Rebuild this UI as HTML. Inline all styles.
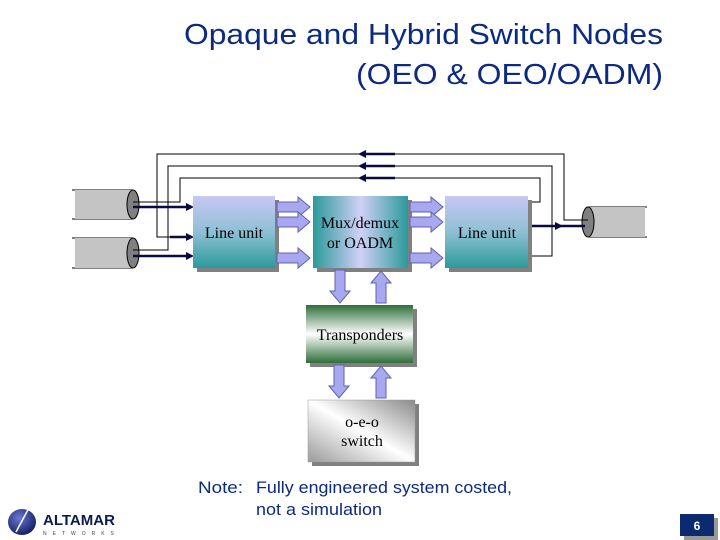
<!DOCTYPE html>
<html><head><meta charset="utf-8"><style>
html,body{margin:0;padding:0;background:#fff;width:720px;height:540px;overflow:hidden}
svg{display:block}
</style></head><body>
<svg width="720" height="540" viewBox="0 0 720 540" xmlns="http://www.w3.org/2000/svg">
<defs>
<linearGradient id="lu" x1="0" y1="0" x2="0" y2="1"><stop offset="0" stop-color="#c8c8f4"/><stop offset="0.5" stop-color="#8ec0d4"/><stop offset="1" stop-color="#2a9a9a"/></linearGradient>
<linearGradient id="mx" x1="0" y1="0" x2="1" y2="0"><stop offset="0" stop-color="#2a9a9a"/><stop offset="0.5" stop-color="#d0d0f6"/><stop offset="1" stop-color="#2a9a9a"/></linearGradient>
<linearGradient id="tr" x1="0" y1="0" x2="0" y2="1"><stop offset="0" stop-color="#2f6e3a"/><stop offset="0.5" stop-color="#ffffff"/><stop offset="1" stop-color="#2f6e3a"/></linearGradient>
<linearGradient id="sw" x1="1" y1="0" x2="0" y2="1"><stop offset="0" stop-color="#8a8a8a"/><stop offset="0.5" stop-color="#ffffff"/><stop offset="1" stop-color="#9a9a9a"/></linearGradient>
<radialGradient id="logo" cx="0.4" cy="0.35" r="0.7"><stop offset="0" stop-color="#6a7ad0"/><stop offset="1" stop-color="#101a60"/></radialGradient>
</defs>

<g font-family="Liberation Sans, Arial, sans-serif" fill="#0c2a80" font-size="29">
<text x="663" y="44" text-anchor="end" textLength="479" lengthAdjust="spacingAndGlyphs">Opaque and Hybrid Switch Nodes</text>
<text x="663" y="84" text-anchor="end" textLength="307" lengthAdjust="spacingAndGlyphs">(OEO &amp; OEO/OADM)</text>
</g>

<g stroke="#000" stroke-width="1">
<line x1="72" y1="190" x2="133" y2="190"/><line x1="72" y1="219" x2="133" y2="219"/>
<rect x="75" y="190" width="58" height="29" fill="#c4c4c4" stroke="none"/>
<ellipse cx="133" cy="204.5" rx="6" ry="14.5" fill="#808080"/>
<line x1="72" y1="238" x2="133" y2="238"/><line x1="72" y1="268" x2="133" y2="268"/>
<rect x="75" y="238" width="58" height="30" fill="#c4c4c4" stroke="none"/>
<ellipse cx="133" cy="253" rx="6" ry="15" fill="#808080"/>
<line x1="588" y1="207" x2="647" y2="207"/><line x1="588" y1="237" x2="647" y2="237"/>
<rect x="588" y="207" width="57" height="30" fill="#c4c4c4" stroke="none"/>
<ellipse cx="588" cy="222" rx="6" ry="15" fill="#808080"/>
</g>

<g fill="none" stroke="#000" stroke-width="1">
<polyline points="193,237 157,237 157,154 564,154 564,220 588,220"/>
<polyline points="133,250 168,250 168,166 552,166 552,256 528,256"/>
<polyline points="133,202 180,202 180,178 540,178 540,202 528,202"/>
</g>
<g stroke="#0a0a40" stroke-width="2.5">
<line x1="362" y1="154" x2="395" y2="154"/><line x1="362" y1="166" x2="395" y2="166"/><line x1="362" y1="178" x2="395" y2="178"/>
<line x1="133" y1="207" x2="188" y2="207"/><line x1="133" y1="256" x2="188" y2="256"/><line x1="170" y1="237" x2="188" y2="237"/>
<line x1="528" y1="226" x2="585" y2="226"/>
</g>
<g fill="#0a0a40">
<polygon points="358,154 366,150 366,158"/><polygon points="358,166 366,162 366,170"/><polygon points="358,178 366,174 366,182"/>
<polygon points="194,207 186,203 186,211"/><polygon points="194,256 186,252 186,260"/><polygon points="194,237 186,233 186,241"/>
<polygon points="563,226 555,222 555,230"/>
</g>

<g fill="#808080">
<rect x="197" y="200" width="82" height="72"/><rect x="317" y="200" width="95" height="72"/><rect x="449" y="200" width="83" height="72"/>
<rect x="310" y="309" width="107" height="58"/><rect x="312" y="404" width="107" height="62"/>
</g>
<rect x="193" y="196" width="82" height="72" fill="url(#lu)"/>
<rect x="313" y="196" width="95" height="72" fill="url(#mx)"/>
<rect x="445" y="196" width="83" height="72" fill="url(#lu)"/>
<rect x="306" y="305" width="107" height="58" fill="url(#tr)"/>
<rect x="308" y="400" width="107" height="62" fill="url(#sw)" stroke="#999" stroke-width="0.5"/>

<g font-family="Liberation Serif, Times New Roman, serif" font-size="16" fill="#000" text-anchor="middle">
<text x="234" y="238">Line unit</text>
<text x="360" y="228">Mux/demux</text>
<text x="360" y="248">or OADM</text>
<text x="487" y="238">Line unit</text>
<text x="360" y="340">Transponders</text>
<text x="362" y="427">o-e-o</text>
<text x="362" y="446">switch</text>
</g>

<g fill="#a8a8f0" stroke="#6060b0" stroke-width="1">
<polygon points="277,202 298,202 298,197 310,207 298,217 298,212 277,212"/>
<polygon points="277,217 298,217 298,212 310,222 298,232 298,227 277,227"/>
<polygon points="277,253 298,253 298,248 310,258 298,268 298,263 277,263"/>
<polygon points="410,202 431,202 431,197 443,207 431,217 431,212 410,212"/>
<polygon points="410,217 431,217 431,212 443,222 431,232 431,227 410,227"/>
<polygon points="410,253 431,253 431,248 443,258 431,268 431,263 410,263"/>
<polygon points="335,270 345,270 345,291 350,291 340,303 330,291 335,291"/>
<polygon points="376,303 386,303 386,283 391,283 381,271 371,283 376,283"/>
<polygon points="334,365 344,365 344,386 349,386 339,398 329,386 334,386"/>
<polygon points="376,398 386,398 386,378 391,378 381,366 371,378 376,378"/>
</g>

<g font-family="Liberation Sans, Arial, sans-serif" font-size="17" fill="#0c2a80">
<text x="198" y="493" textLength="45" lengthAdjust="spacingAndGlyphs">Note:</text>
<text x="256" y="493" textLength="256" lengthAdjust="spacingAndGlyphs">Fully engineered system costed,</text>
<text x="256" y="515" textLength="126" lengthAdjust="spacingAndGlyphs">not a simulation</text>
</g>

<ellipse cx="22" cy="522" rx="14" ry="13" fill="url(#logo)"/>
<line x1="16" y1="532" x2="30" y2="506" stroke="#fff" stroke-width="1.5"/>
<text x="43" y="525" font-family="Liberation Sans, Arial, sans-serif" font-weight="bold" font-size="15" fill="#0c1a50">ALTAMAR</text>
<text x="43" y="535" font-family="Liberation Sans, Arial, sans-serif" font-size="5" fill="#444" letter-spacing="6">NETWORKS</text>

<rect x="684" y="518" width="34" height="22" fill="#999"/>
<rect x="680" y="514" width="34" height="22" fill="#0c2a70"/>
<text x="697" y="530" text-anchor="middle" font-family="Liberation Sans, Arial, sans-serif" font-weight="bold" font-size="12" fill="#fff">6</text>
</svg>
</body></html>
